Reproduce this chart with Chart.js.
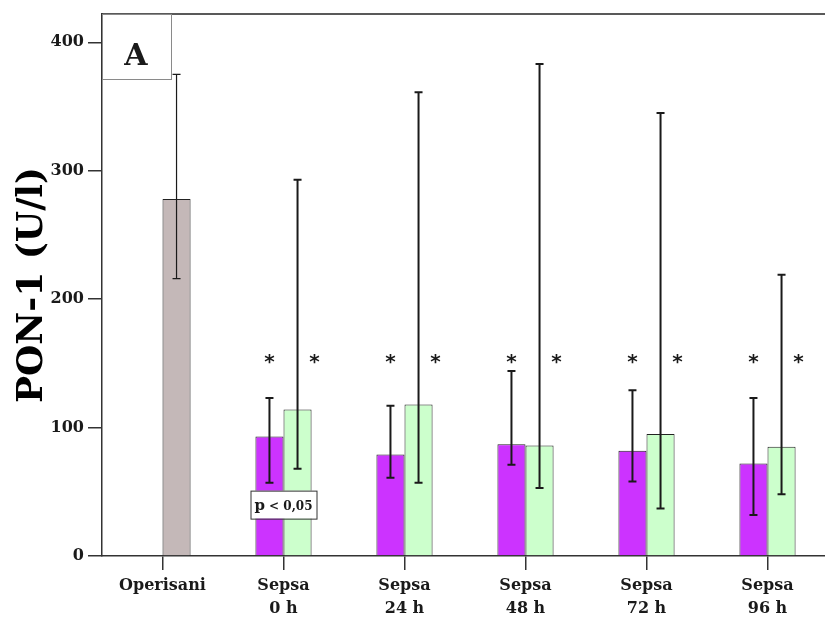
<!DOCTYPE html>
<html>
<head>
<meta charset="utf-8">
<script src="https://cdn.jsdelivr.net/npm/chart.js@4/dist/chart.umd.min.js"></script>
<style>
  html, body { margin: 0; padding: 0; background: #fff; overflow: hidden; }
  #wrap { width: 825px; height: 618px; overflow: hidden; }
</style>
</head>
<body>
<div id="wrap"><canvas id="chart" width="828" height="618"></canvas></div>
<script>
/* ---------- data ---------- */
const categories = ['Operisani', ['Sepsa', '0 h'], ['Sepsa', '24 h'], ['Sepsa', '48 h'], ['Sepsa', '72 h'], ['Sepsa', '96 h']];

// purple group (no value for the operated controls)
const groupA     = [null, 93, 79, 87, 82, 72];
const groupALow  = [null, 57, 61, 71, 58, 32];
const groupAHigh = [null, 123, 117, 144, 129, 123];

// green group; first entry is the grey "Operisani" bar
const groupB     = [278, 114, 118, 86, 95, 85];
const groupBLow  = [216, 68, 57, 53, 37, 48];
const groupBHigh = [375, 293, 361, 383, 345, 219];

const yTicks    = [0, 100, 200, 300, 400];
const yMax      = 422;
const starLevel = 155;   // where the * marks sit
const pBoxLevel = 40;    // "p < 0,05" label
const pBoxCat   = 1;

/* ---------- style ---------- */
const PURPLE = '#cc33ff';
const GREEN  = '#ccffcc';
const GREY   = '#c4b8b8';
const INK    = '#1a1a1a';
const SERIF  = '"DejaVu Serif", serif';

/* ---------- plugins ---------- */
const errorBars = {
  id: 'errorBars',
  afterDatasetsDraw(chart) {
    const { ctx, scales: { y } } = chart;
    chart.data.datasets.forEach((ds, di) => {
      const meta = chart.getDatasetMeta(di);
      meta.data.forEach((bar, i) => {
        const lo = ds.errLow[i], hi = ds.errHigh[i];
        if (lo == null || hi == null) return;
        const yl = y.getPixelForValue(lo), yh = y.getPixelForValue(hi);
        ctx.save();
        ctx.strokeStyle = INK;
        ctx.lineWidth = (di === 1 && i === 0) ? 1.2 : 2;
        ctx.beginPath();
        ctx.moveTo(bar.x, yl); ctx.lineTo(bar.x, yh);
        ctx.moveTo(bar.x - 4, yl); ctx.lineTo(bar.x + 4, yl);
        ctx.moveTo(bar.x - 4, yh); ctx.lineTo(bar.x + 4, yh);
        ctx.stroke();
        ctx.restore();
      });
    });
  }
};

const annotations = {
  id: 'annotations',
  afterDraw(chart) {
    const { ctx, chartArea: ca, scales: { x, y } } = chart;
    ctx.save();

    // top frame line
    ctx.strokeStyle = '#222';
    ctx.lineWidth = 1.5;
    ctx.beginPath();
    ctx.moveTo(ca.left, ca.top); ctx.lineTo(ca.right, ca.top);
    ctx.stroke();

    // panel letter box
    ctx.strokeStyle = '#8a8a8a';
    ctx.lineWidth = 1;
    ctx.strokeRect(ca.left + 0.5, ca.top + 0.5, 69, 65);
    ctx.fillStyle = INK;
    ctx.font = 'bold 30px ' + SERIF;
    ctx.textAlign = 'center';
    ctx.textBaseline = 'alphabetic';
    ctx.fillText('A', ca.left + 34, ca.top + 51);

    // significance stars
    ctx.font = 'bold 20px "DejaVu Sans", sans-serif';
    const ys = y.getPixelForValue(starLevel) + 11;
    const mA = chart.getDatasetMeta(0), mB = chart.getDatasetMeta(1);
    for (let i = 1; i < categories.length; i++) {
      ctx.fillText('*', mA.data[i].x, ys);
      ctx.fillText('*', mB.data[i].x + 17, ys);
    }

    // p < 0,05 box
    const cx = x.getPixelForValue(pBoxCat), cy = y.getPixelForValue(pBoxLevel);
    ctx.fillStyle = '#fff';
    ctx.fillRect(cx - 33, cy - 14, 66, 28);
    ctx.strokeStyle = '#333';
    ctx.strokeRect(cx - 33 + 0.5, cy - 14 + 0.5, 66, 28);
    ctx.fillStyle = INK;
    ctx.textAlign = 'left';
    const fP = 'bold 15px ' + SERIF, fR = 'bold 12px ' + SERIF;
    ctx.font = fP; const wP = ctx.measureText('p').width;
    ctx.font = fR; const wR = ctx.measureText(' < 0,05').width;
    let tx = cx - (wP + wR) / 2;
    ctx.font = fP; ctx.fillText('p', tx, cy + 5);
    ctx.font = fR; ctx.fillText(' < 0,05', tx + wP, cy + 5);

    ctx.restore();
  }
};

/* ---------- chart ---------- */
new Chart(document.getElementById('chart'), {
  type: 'bar',
  data: {
    labels: categories,
    datasets: [
      {
        label: 'Sepsa A',
        data: groupA,
        errLow: groupALow,
        errHigh: groupAHigh,
        backgroundColor: PURPLE,
        borderColor: '#222',
        borderWidth: 1
      },
      {
        label: 'Sepsa B',
        data: groupB,
        errLow: groupBLow,
        errHigh: groupBHigh,
        backgroundColor: groupB.map((v, i) => i === 0 ? GREY : GREEN),
        borderColor: '#222',
        borderWidth: 1
      }
    ]
  },
  options: {
    responsive: false,
    animation: false,
    devicePixelRatio: 1,
    layout: { padding: { top: 14, right: 0, left: 0, bottom: 0 } },
    categoryPercentage: 0.464,
    barPercentage: 1,
    plugins: { legend: { display: false }, tooltip: { enabled: false } },
    scales: {
      x: {
        offset: true,
        afterFit: s => { s.height = 62; },
        grid: { offset: false, drawOnChartArea: false, tickLength: 14, color: '#333', lineWidth: 1.5 },
        border: { display: true, color: '#333', width: 1.5 },
        ticks: { color: INK, padding: 5, font: { family: SERIF, weight: 'bold', size: 16, lineHeight: 1.4 } }
      },
      y: {
        min: 0,
        max: yMax,
        afterFit: s => { s.width = 102; },
        afterBuildTicks: s => { s.ticks = yTicks.map(v => ({ value: v })); },
        grid: { drawOnChartArea: false, tickLength: 14, color: '#333', lineWidth: 1.5 },
        border: { display: true, color: '#333', width: 1.5 },
        ticks: { color: INK, padding: 4, font: { family: SERIF, weight: 'bold', size: 16 } },
        title: {
          display: true,
          text: 'PON-1 (U/l)',
          color: '#000',
          padding: { top: 11, bottom: 0 },
          font: { family: SERIF, weight: 'bold', size: 36 }
        }
      }
    }
  },
  plugins: [errorBars, annotations]
});
</script>
</body>
</html>
